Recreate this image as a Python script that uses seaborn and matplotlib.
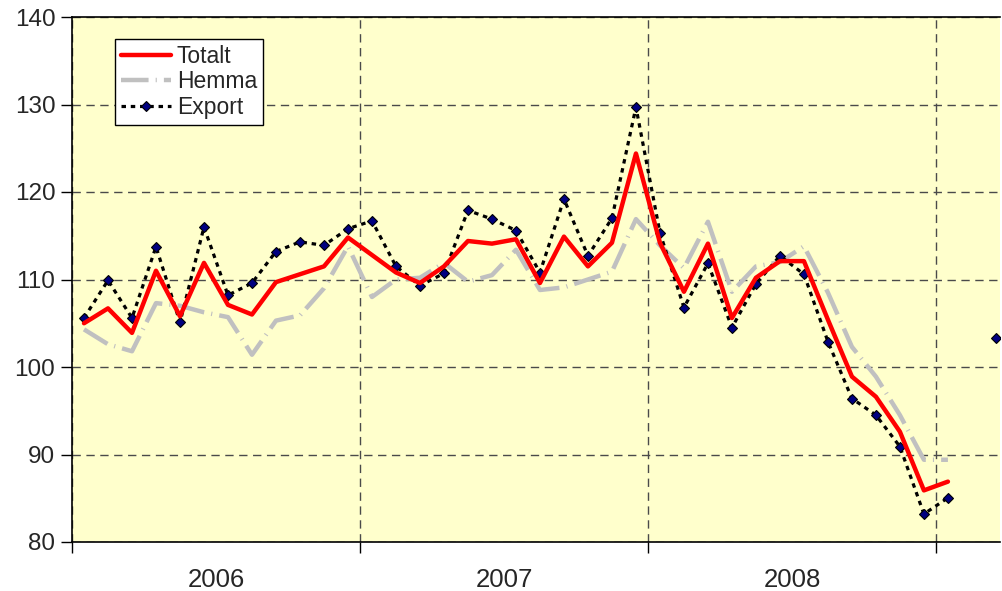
import numpy as np
import pandas as pd
import matplotlib
matplotlib.use("Agg")
import matplotlib.pyplot as plt
import seaborn as sns

# ---- data (monthly index, Jan 2006 = 0) ----
totalt = [105.0, 106.7, 103.9, 111.0, 105.8, 111.9, 107.1, 106.0, 109.7, 110.6, 111.5, 114.8,
          112.8, 110.8, 109.6, 111.5, 114.4, 114.1, 114.6, 109.6, 114.9, 111.5, 114.2, 124.4,
          114.2, 108.6, 114.1, 105.6, 110.2, 112.1, 112.1, 105.4, 98.9, 96.6, 92.6, 85.9, 86.9]
hemma = [104.3, 102.6, 101.8, 107.3, 107.0, 106.25, 105.7, 101.4, 105.3, 105.9, 109.0, 113.8,
         108.0, 110.0, 110.2, 111.9, 109.75, 110.5, 113.4, 108.8, 109.1, 110.0, 110.9, 116.9,
         113.9, 111.3, 116.6, 108.6, 111.5, 112.0, 113.8, 108.5, 102.3, 98.9, 94.5, 89.4, 89.4]
export = [105.6, 109.9, 105.6, 113.75, 105.1, 116.0, 108.2, 109.6, 113.2, 114.3, 113.9, 115.8,
          116.7, 111.5, 109.3, 110.7, 117.9, 116.9, 115.6, 110.8, 119.2, 112.7, 117.0, 129.7,
          115.35, 106.8, 111.85, 104.5, 109.5, 112.7, 110.6, 102.9, 96.4, 94.5, 90.9, 83.2, 85.05,
          np.nan, 103.3]
years = ["2006", "2007", "2008"]
series_names = ["Totalt", "Hemma", "Export"]

sns.set_style("white")
plt.rcParams["font.family"] = ["Liberation Sans", "DejaVu Sans"]

fig = plt.figure(figsize=(10.02, 5.91), dpi=100)
ax = fig.add_axes([72 / 1002, 49 / 591, 928 / 1002, 525 / 591])
ax.set_facecolor("#FFFFCC")

df_t = pd.DataFrame({"m": np.arange(len(totalt)), "v": totalt})
df_h = pd.DataFrame({"m": np.arange(len(hemma)), "v": hemma})
ex = np.array(export, dtype=float)
df_e = pd.DataFrame({"m": np.arange(len(ex)), "v": ex, "seg": np.cumsum(np.isnan(ex))})
df_e = df_e.dropna()

sns.lineplot(data=df_h, x="m", y="v", ax=ax, color="#C0C0C0", lw=3.2,
             linestyle=(0, (6.2, 1.6, 0.25, 1.6)), label=series_names[1], zorder=3)
sns.lineplot(data=df_e, x="m", y="v", units="seg", estimator=None, ax=ax, color="black",
             lw=2.3, linestyle=(0, (1.4, 1.5)), marker="D", markersize=5.5,
             markerfacecolor="#000080", markeredgecolor="black", markeredgewidth=0.8,
             label=series_names[2], zorder=4)
sns.lineplot(data=df_t, x="m", y="v", ax=ax, color="#FF0000", lw=3.2,
             label=series_names[0], zorder=5)

ax.set_xlim(-0.5, 38.17)
ax.set_ylim(80, 140)
ax.set_xlabel("")
ax.set_ylabel("")

ax.set_yticks(np.arange(80, 141, 10))
ax.tick_params(axis="y", which="major", direction="out", length=8, width=1,
               color="black", labelsize=17.5, pad=4, left=True)
ax.set_xticks([-0.5, 11.5, 23.5, 35.5])
ax.set_xticklabels([])
ax.set_xticks([5.5, 17.5, 29.5], minor=True)
ax.set_xticklabels(years, minor=True)
ax.tick_params(axis="x", which="major", direction="out", length=8, width=1,
               color="black", bottom=True)
ax.tick_params(axis="x", which="minor", length=0, labelsize=18.5, pad=19)

ax.grid(True, which="major", axis="both", color="#4a4a4a", lw=1,
        linestyle=(0, (6, 4)))

for s in ["left", "bottom", "top"]:
    ax.spines[s].set_visible(True)
    ax.spines[s].set_color("black")
    ax.spines[s].set_linewidth(1.2)
ax.spines["right"].set_visible(False)
ax.set_axisbelow(True)

handles, labels = ax.get_legend_handles_labels()
seen = {}
for h, l in zip(handles, labels):
    if l not in seen:
        seen[l] = h
order = series_names
leg = ax.legend([seen[n] for n in order], order, loc="upper left",
                bbox_to_anchor=((115 - 72) / 928, (542 - 39) / 525),
                borderaxespad=0, fontsize=16.5, frameon=True, fancybox=False,
                framealpha=1, edgecolor="black", handlelength=2.2,
                handletextpad=0.25, labelspacing=0.12, borderpad=0.25)
leg.get_frame().set_linewidth(1.0)

fig.savefig("out.png", dpi=100, facecolor="white")
